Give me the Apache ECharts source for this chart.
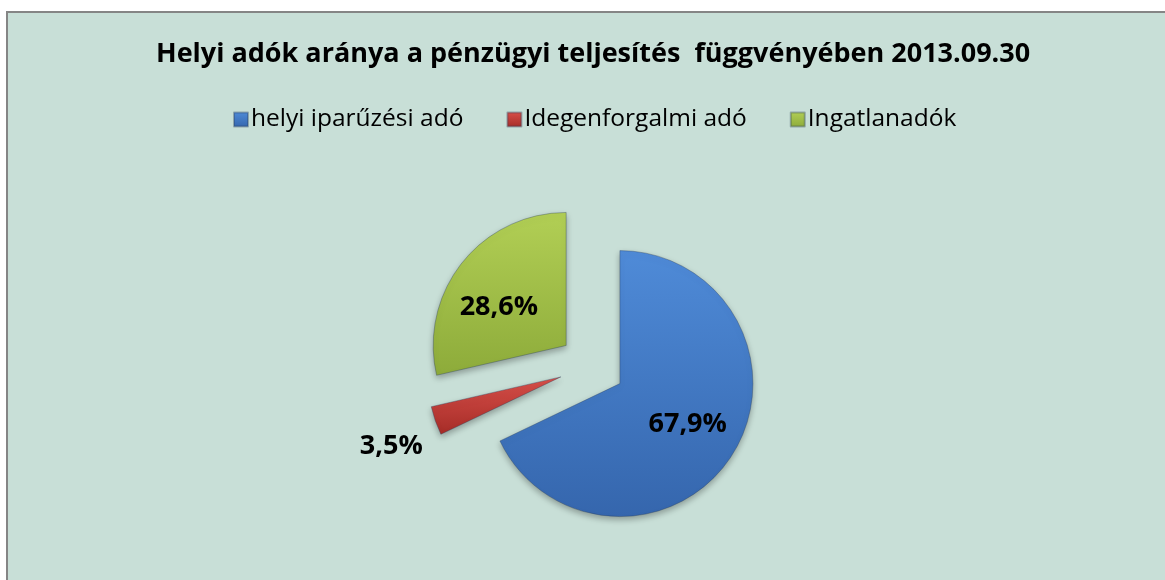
<!DOCTYPE html>
<html>
<head>
<meta charset="utf-8">
<script src="https://cdn.jsdelivr.net/npm/echarts@6/dist/echarts.min.js"></script>
<style>
  html, body { margin: 0; padding: 0; background: #fff; }
  #chart { width: 1165px; height: 580px; }
</style>
</head>
<body>
<div id="chart"></div>
<script>
// adatok
var kategoriak = ['helyi iparűzési adó', 'Idegenforgalmi adó', 'Ingatlanadók'];
var aranyok = [67.9, 3.5, 28.6];
var cimkek = ['67,9%', '3,5%', '28,6%'];

var szinek = [
    ['#4F8BD8', '#3566AD'],
    ['#D9504A', '#A52C27'],
    ['#B2CF55', '#8DAB3A']
];
// cimke eltolasok (dx, dy)
var cimkeEltolas = [[9, 4], [0, 23], [-13, 5]];

var chart = echarts.init(document.getElementById('chart'));

var adat = [];
for (var i = 0; i < kategoriak.length; i++) {
    adat.push({
        name: kategoriak[i],
        value: aranyok[i],
        selected: true,
        itemStyle: {
            color: new echarts.graphic.LinearGradient(0, 0, 0, 1, [
                { offset: 0, color: szinek[i][0] },
                { offset: 1, color: szinek[i][1] }
            ])
        },
        label: i === 1 ? { position: 'outside' } : { position: 'inside' }
    });
}

var option = {
    backgroundColor: '#fff',
    animation: false,
    graphic: [{
        type: 'rect',
        shape: { x: 7, y: 12, width: 1200, height: 620 },
        style: { fill: '#C8DFD7', stroke: '#858585', lineWidth: 2 },
        z: -10
    }],
    title: {
        text: 'Helyi adók aránya a pénzügyi teljesítés  függvényében 2013.09.30',
        left: 151,
        top: 36,
        padding: 5,
        textStyle: {
            fontFamily: 'Open Sans',
            fontWeight: 'bold',
            fontSize: 27,
            color: '#000'
        }
    },
    legend: {
        data: kategoriak,
        top: 102,
        left: 228,
        icon: 'rect',
        itemWidth: 14,
        itemHeight: 14,
        itemGap: 43,
        selectedMode: false,
        textStyle: {
            fontFamily: 'Open Sans',
            fontSize: 24.5,
            color: '#000',
            padding: [0, 0, 0, -2]
        }
    },
    series: [{
        type: 'pie',
        center: [592, 366],
        radius: 133,
        startAngle: 90,
        clockwise: true,
        selectedMode: 'multiple',
        selectedOffset: 33,
        avoidLabelOverlap: false,
        emphasis: { disabled: true },
        itemStyle: {
            borderColor: 'rgba(40,60,90,0.35)',
            borderWidth: 1,
            shadowBlur: 6,
            shadowOffsetY: 3,
            shadowColor: 'rgba(0,0,0,0.3)'
        },
        label: {
            show: true,
            formatter: function (p) { return cimkek[p.dataIndex]; },
            fontFamily: 'Open Sans',
            fontWeight: 'bold',
            fontSize: 27,
            color: '#000'
        },
        labelLine: { show: false, length: 8, length2: 0 },
        labelLayout: function (p) {
            var e = cimkeEltolas[p.dataIndex];
            return { dx: e[0], dy: e[1] };
        },
        data: adat
    }]
};

chart.setOption(option);
</script>
</body>
</html>
